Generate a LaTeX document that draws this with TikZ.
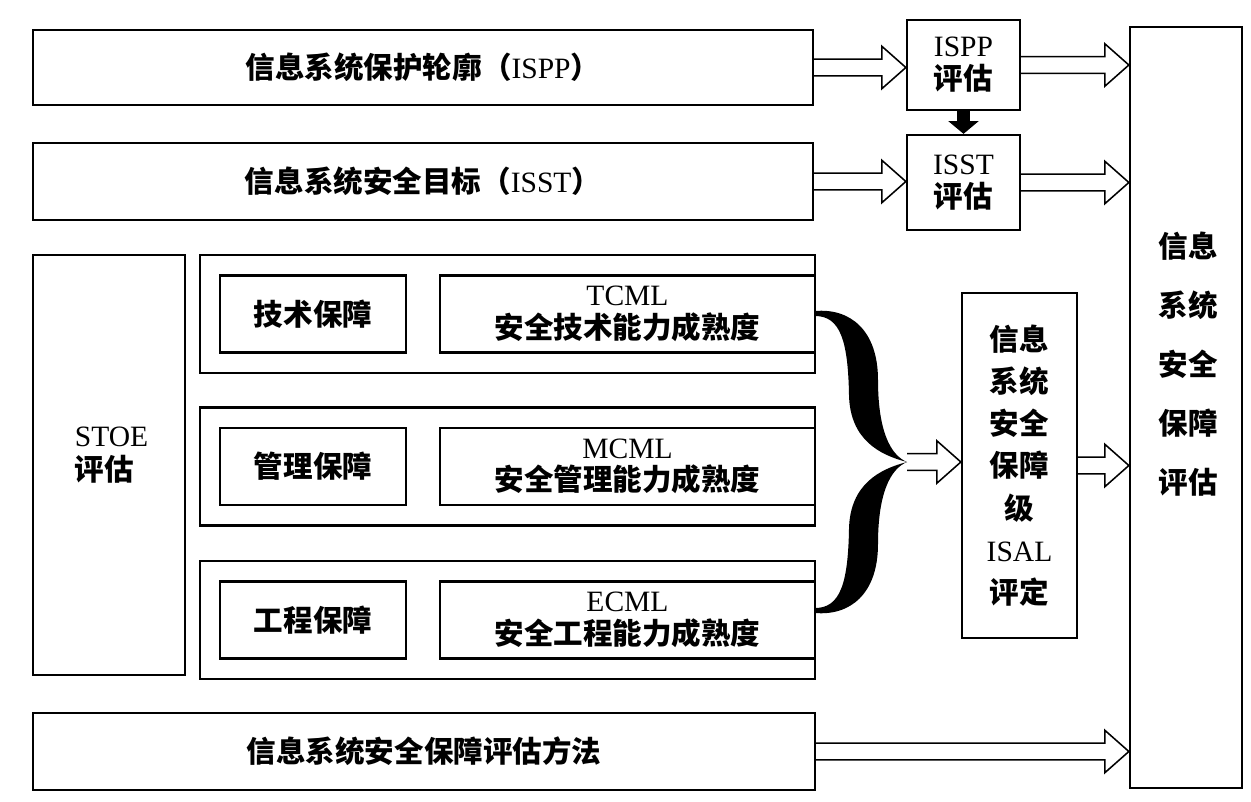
\documentclass[tikz,border=0pt]{standalone}
\usepackage{fontspec}
\setmainfont{Noto Sans CJK SC}
\newfontfamily\latin{Liberation Serif}[BoldFont=Liberation Serif]
\usetikzlibrary{arrows.meta,calc}

\begin{document}
\begin{tikzpicture}[x=0.025cm, y=-0.025cm,
		every node/.style={font=\fontsize{21}{24}\selectfont\bfseries},
		box/.style={draw, line width=1.6pt, inner sep=0pt, align=center},
		fatarrow/.style={draw, line width=1.1pt, line join=miter,
			to path={let \p1=(\tikztostart), \p2=(\tikztotarget) in
				(\x1,\y1+0.21cm) -- (\x2-0.6cm,\y1+0.21cm) -- (\x2-0.6cm,\y1+0.53cm) -- (\x2,\y1)
				-- (\x2-0.6cm,\y1-0.53cm) -- (\x2-0.6cm,\y1-0.21cm) -- (\x1,\y1-0.21cm)}}]
		\useasboundingbox (0,0) rectangle (1251,802);
		% left column
		\node[box, minimum width=19.5cm, minimum height=1.875cm] (ispp) at (423,67.5) {信息系统保护轮廓（{\latin ISPP}）};
		\node[box, minimum width=19.5cm, minimum height=1.925cm] (isst) at (423,181.5) {信息系统安全目标（{\latin ISST}）};
		\node[box, minimum width=3.8cm, minimum height=10.5cm] (stoe) at (109,465) {};
		\node[anchor=west, align=left] (stoetext) at (70,455) {{\latin STOE}\\评估};
		\foreach \y/\nm/\lab/\abbr/\txt in {314/tech/技术保障/TCML/安全技术能力成熟度,
				466.5/mgmt/管理保障/MCML/安全管理能力成熟度, 620/eng/工程保障/ECML/安全工程能力成熟度} {
			\node[box, minimum width=15.375cm, minimum height=2.95cm] (\nm) at (507.5,\y) {};
			\node[box, minimum width=4.65cm, minimum height=1.925cm] (\nm-a) at (313,\y) {\lab};
			\node[box, minimum width=9.375cm, minimum height=1.925cm, font=\fontsize{21}{23}\selectfont\bfseries] (\nm-c) at (627.5,\y) {{\latin\abbr}\\\txt};
		}
		\node[box, minimum width=19.55cm, minimum height=1.925cm] (method) at (424,751.5) {信息系统安全保障评估方法};
		% right column
		\node[box, minimum width=2.825cm, minimum height=2.25cm, font=\fontsize{21}{23.5}\selectfont\bfseries] (isppeval) at (963.5,65) {{\latin ISPP}\\评估};
		\node[box, minimum width=2.825cm, minimum height=2.375cm, font=\fontsize{21}{23.5}\selectfont\bfseries] (issteval) at (963.5,182.5) {{\latin ISST}\\评估};
		\node[box, minimum width=2.875cm, minimum height=8.625cm, font=\fontsize{21}{30}\selectfont\bfseries] (isal) at (1019.5,465.5) {信息\\系统\\安全\\保障\\级\\{\latin ISAL}\\评定};
		\node[box, minimum width=2.8cm, minimum height=19.025cm] (right) at (1186,407.5) {};
		\node[align=center, font=\fontsize{21}{42}\selectfont\bfseries] (righttext) at (1188,364) {信息\\系统\\安全\\保障\\评估};
		% brace
		\coordinate (tip) at (907,462);
		\foreach \s in {1,-1}
			\fill[shift={(tip)}, yscale=\s] (-92,-151) .. controls (-57,-154) and (-29,-132) .. (-29,-82)
				.. controls (-29,-32) and (-17,-7) .. (0,0) .. controls (-27,-7) and (-57,-22) .. (-58,-67)
				.. controls (-59,-122) and (-67,-146) .. (-92,-146) -- cycle;
		% arrows
		\draw[fatarrow] (ispp.east) to (isppeval.west);
		\draw[fatarrow] (isst.east) to (issteval.west);
		\draw[fatarrow] (isppeval.east) to (isppeval.east -| right.west);
		\draw[fatarrow] (issteval.east) to (issteval.east -| right.west);
		\draw[fatarrow] (tip) to (isal.west);
		\draw[fatarrow] (isal.east) to (isal.east -| right.west);
		\draw[fatarrow] (method.east) to (method.east -| right.west);
		\draw[line width=9pt, -{Triangle[length=9pt, width=21pt]}] (isppeval.south) -- (issteval.north);
	\end{tikzpicture}
\end{document}
